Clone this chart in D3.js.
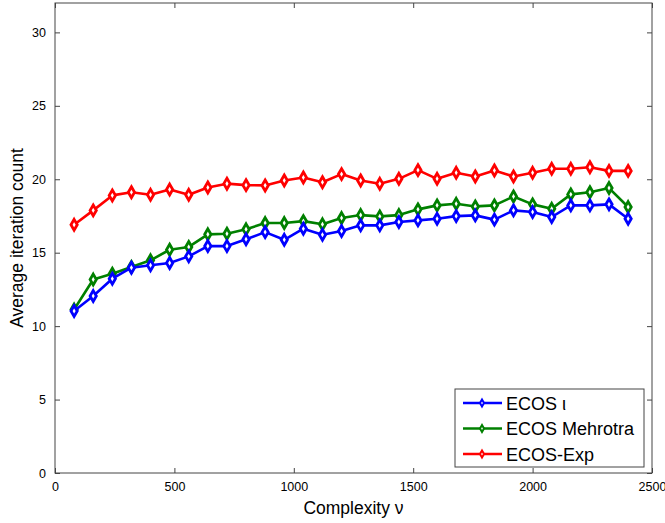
<!DOCTYPE html>
<html><head><meta charset="utf-8">
<script src="https://cdn.jsdelivr.net/npm/d3@7"></script>
<style>body{margin:0;background:#fff}svg{display:block}text{font-family:"Liberation Sans",Arial,sans-serif}</style>
</head><body><svg id="c" width="665" height="523"></svg>
<script>
const complexity = [80,160,240,320,400,480,560,640,720,800,880,960,1040,1120,1200,1280,1360,1440,1520,1600,1680,1760,1840,1920,2000,2080,2160,2240,2320,2400];
const ecosIota = [11.03,12.05,13.23,13.98,14.14,14.3,14.75,15.45,15.45,15.91,16.4,15.88,16.63,16.22,16.47,16.86,16.86,17.09,17.2,17.31,17.49,17.54,17.25,17.88,17.77,17.43,18.22,18.22,18.29,17.31];
const ecosMehrotra = [11.13,13.17,13.57,14.03,14.48,15.2,15.39,16.25,16.29,16.59,17.02,17.02,17.15,16.93,17.36,17.56,17.47,17.56,17.95,18.22,18.33,18.15,18.22,18.83,18.29,17.99,18.97,19.12,19.4,18.11];
const ecosExp = [16.9,17.88,18.9,19.12,18.94,19.3,18.94,19.44,19.7,19.6,19.58,19.92,20.12,19.8,20.35,19.92,19.69,20.03,20.62,20.03,20.44,20.19,20.6,20.19,20.44,20.71,20.71,20.82,20.57,20.57];
const seriesNames = ["ECOS \u03B9","ECOS Mehrotra","ECOS-Exp"];
const seriesColors = ["#0000ff","#008000","#ff0000"];
const xTicks = [0,500,1000,1500,2000,2500];
const yTicks = [0,5,10,15,20,25,30];

const svg = d3.select("#c");
const L=55,R=652,T=3,B=473;
const x = d3.scaleLinear().domain([0,2500]).range([L,R]);
const y = d3.scaleLinear().domain([0,32]).range([B,T]);
const axisColor="#444";

svg.append("rect").attr("x",L).attr("y",T).attr("width",R-L).attr("height",B-T)
  .attr("fill","none").attr("stroke",axisColor).attr("stroke-width",1);

function styleAxis(g){
  g.select(".domain").remove();
  g.selectAll(".tick line").attr("stroke",axisColor);
  g.selectAll(".tick text").attr("fill","#000").style("font-size","12.5px").style("font-family","Liberation Sans, Arial, sans-serif");
}
const ax = svg.append("g").attr("transform",`translate(0,${B})`)
  .call(d3.axisBottom(x).tickValues(xTicks).tickSize(-5).tickPadding(9).tickFormat(d3.format("d")));
styleAxis(ax);
const axT = svg.append("g").attr("transform",`translate(0,${T})`)
  .call(d3.axisTop(x).tickValues(xTicks).tickSize(-5).tickFormat(""));
styleAxis(axT);
const ay = svg.append("g").attr("transform",`translate(${L},0)`)
  .call(d3.axisLeft(y).tickValues(yTicks).tickSize(-5).tickPadding(9).tickFormat(d3.format("d")));
styleAxis(ay);
const ayR = svg.append("g").attr("transform",`translate(${R},0)`)
  .call(d3.axisRight(y).tickValues(yTicks).tickSize(-5).tickFormat(""));
styleAxis(ayR);

svg.append("text").attr("x",(L+R)/2).attr("y",514).attr("text-anchor","middle")
  .style("font-size","17.5px").text("Complexity \u03BD");
svg.append("text").attr("transform",`translate(23,${(T+B)/2}) rotate(-90)`).attr("text-anchor","middle")
  .style("font-size","17.5px").text("Average iteration count");

const allSeries=[ecosIota,ecosMehrotra,ecosExp];
const diamond = d3.symbol().type(d3.symbolDiamond).size(34);
const line = d3.line().x((d,i)=>x(complexity[i])).y(d=>y(d));
[2,1,0].forEach(k=>{
  const vals=allSeries[k];
  const g=svg.append("g");
  g.append("path").datum(vals).attr("d",line).attr("fill","none")
    .attr("stroke",seriesColors[k]).attr("stroke-width",2.6).attr("stroke-linejoin","round");
  g.selectAll("path.m").data(vals).join("path").attr("class","m")
    .attr("d",diamond).attr("transform",(d,i)=>`translate(${x(complexity[i])},${y(d)})`)
    .attr("fill","#fff").attr("stroke",seriesColors[k]).attr("stroke-width",2.8);
});

const lg=svg.append("g");
lg.append("rect").attr("x",455).attr("y",389).attr("width",189).attr("height",78)
  .attr("fill","#fff").attr("stroke",axisColor).attr("stroke-width",1);
seriesNames.forEach((n,k)=>{
  const yy=403+k*25.5;
  lg.append("line").attr("x1",463).attr("x2",502).attr("y1",yy).attr("y2",yy)
    .attr("stroke",seriesColors[k]).attr("stroke-width",2.6);
  lg.append("path").attr("d",d3.symbol().type(d3.symbolDiamond).size(14)())
    .attr("transform",`translate(482,${yy})`).attr("fill","#fff").attr("stroke",seriesColors[k]).attr("stroke-width",2);
  lg.append("text").attr("x",506).attr("y",yy+6.5).style("font-size","18px").text(n);
});
</script></body></html>
